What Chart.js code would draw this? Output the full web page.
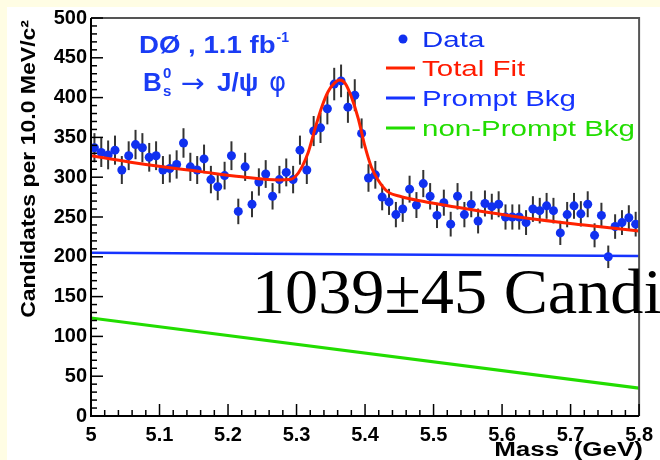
<!DOCTYPE html>
<html>
<head>
<meta charset="utf-8">
<script src="https://cdn.jsdelivr.net/npm/chart.js@4.4.1/dist/chart.umd.min.js"></script>
<style>
html, body { margin: 0; padding: 0; background: #fffde4; }
#wrap { width: 660px; height: 460px; }
</style>
</head>
<body>
<div id="wrap"><canvas id="massChart" width="660" height="460"></canvas></div>
<script>
// binning of the histogram (10 MeV per bin)
const binStart = 5.0;
const binWidth = 0.01;
const candidates = [
  337, 331, 328, 334, 309, 327, 341, 337, 325, 327,
  309, 311, 316, 343, 313, 309, 323, 297, 288, 302,
  327, 257, 313, 266, 294, 304, 276, 297, 306, 297,
  334, 309, 358, 362, 386, 417, 421, 388, 403, 355,
  299, 303, 275, 269, 253, 260, 285, 265, 292, 276,
  252, 268, 241, 276, 253, 266, 245, 267, 263, 266,
  250, 250, 250, 243, 260, 258, 264, 258, 230, 253,
  264, 254, 266, 227, 252, 200, 238, 243, 249, 241
];
// total fit
const fitMass = [5.0, 5.08, 5.16, 5.22, 5.275, 5.29, 5.298, 5.308, 5.317, 5.327, 5.337, 5.346, 5.356, 5.363,
  5.371, 5.38, 5.39, 5.4, 5.409, 5.419, 5.433, 5.453, 5.48, 5.55, 5.64, 5.72, 5.8];
const fitValues = [327, 316, 307, 300.5, 296.5, 297, 300.5, 313, 331, 361, 388.6, 407.4, 418.7, 422,
  418, 401, 374, 338.3, 313.2, 296.5, 281.8, 275.5, 270.5, 260, 248, 240, 232.5];
const promptMass = [5.0, 5.8];
const promptValues = [205, 201];
const nonPromptMass = [5.0, 5.8];
const nonPromptValues = [123, 35];
const massTicks = [5, 5.1, 5.2, 5.3, 5.4, 5.5, 5.6, 5.7, 5.8];
const countTicks = [0, 50, 100, 150, 200, 250, 300, 350, 400, 450, 500];

const pts = candidates.map((c, i) => ({ x: binStart + binWidth * (i + 0.5), y: c }));
const toXY = (xs, ys) => xs.map((x, i) => ({ x: x, y: ys[i] }));

function txt(ctx, s, x, y, font, color, sx, align) {
  ctx.save();
  ctx.font = font;
  ctx.fillStyle = color;
  ctx.textAlign = align || 'left';
  ctx.textBaseline = 'alphabetic';
  ctx.translate(x, y);
  ctx.scale(sx || 1, 1);
  ctx.fillText(s, 0, 0);
  const w = ctx.measureText(s).width * (sx || 1);
  ctx.restore();
  return w;
}

const histPlugin = {
  id: 'histPlugin',
  beforeDraw(chart) {
    const ctx = chart.ctx;
    ctx.save();
    ctx.fillStyle = '#fffde4';
    ctx.fillRect(0, 0, 660, 460);
    ctx.fillStyle = '#ffffff';
    ctx.fillRect(7, 7, 653, 453);
    ctx.restore();
  },
  beforeDatasetsDraw(chart) {
    // error bars
    const ctx = chart.ctx, xs = chart.scales.x, ys = chart.scales.y;
    ctx.save();
    ctx.strokeStyle = '#333';
    ctx.lineWidth = 2;
    pts.forEach(p => {
      const e = Math.sqrt(p.y);
      const px = xs.getPixelForValue(p.x);
      ctx.beginPath();
      ctx.moveTo(px, ys.getPixelForValue(p.y - e));
      ctx.lineTo(px, ys.getPixelForValue(p.y + e));
      ctx.stroke();
    });
    ctx.restore();
  },
  afterDatasetsDraw(chart) {
    const ctx = chart.ctx, xs = chart.scales.x, ys = chart.scales.y;
    const a = chart.chartArea;
    ctx.save();
    // frame
    ctx.lineWidth = 2;
    ctx.strokeStyle = '#555';
    ctx.beginPath();
    ctx.moveTo(a.left, a.top); ctx.lineTo(a.right, a.top); ctx.lineTo(a.right, a.bottom);
    ctx.stroke();
    ctx.strokeStyle = '#000';
    ctx.beginPath();
    ctx.moveTo(a.left, a.top); ctx.lineTo(a.left, a.bottom); ctx.lineTo(a.right, a.bottom);
    ctx.stroke();
    // ticks pointing inside
    ctx.lineWidth = 1.5;
    for (let v = 0; v <= 500; v += 10) {
      const py = ys.getPixelForValue(v);
      const len = countTicks.includes(v) ? 12 : 6;
      ctx.beginPath(); ctx.moveTo(a.left, py); ctx.lineTo(a.left + len, py); ctx.stroke();
    }
    for (let k = 0; k <= 40; k++) {
      const px = xs.getPixelForValue(5 + k * 0.02);
      const len = k % 5 === 0 ? 12 : 6;
      ctx.beginPath(); ctx.moveTo(px, a.bottom); ctx.lineTo(px, a.bottom - len); ctx.stroke();
    }
    ctx.restore();

    // legend
    const lf = '22px "Liberation Sans", Arial, sans-serif';
    ctx.save();
    ctx.fillStyle = '#1030f0';
    ctx.beginPath(); ctx.arc(403, 39, 4.5, 0, Math.PI * 2); ctx.fill();
    ctx.lineWidth = 3;
    [['#ff2200', 68], ['#1533ff', 98], ['#22dd00', 128]].forEach(l => {
      ctx.strokeStyle = l[0];
      ctx.beginPath(); ctx.moveTo(386, l[1]); ctx.lineTo(415, l[1]); ctx.stroke();
    });
    ctx.restore();
    txt(ctx, 'Data', 422, 47, lf, '#1030f0', 1.34);
    txt(ctx, 'Total Fit', 422, 76, lf, '#ff1a00', 1.34);
    txt(ctx, 'Prompt Bkg', 422, 106, lf, '#1533ff', 1.34);
    txt(ctx, 'non-Prompt Bkg', 422, 136, lf, '#22dd00', 1.34);

    // experiment labels
    const bf = 'bold 24px "Liberation Sans", Arial, sans-serif';
    const blue = '#1a3cf5';
    let w = txt(ctx, 'DØ , 1.1 fb', 139, 53, bf, blue, 1.15);
    txt(ctx, '-1', 139 + w + 1, 42, 'bold 14px "Liberation Sans", Arial, sans-serif', blue, 1);
    txt(ctx, 'B', 143, 91, 'bold 26px "Liberation Sans", Arial, sans-serif', blue, 1);
    txt(ctx, '0', 163, 78, 'bold 15px "Liberation Sans", Arial, sans-serif', blue, 1);
    txt(ctx, 's', 163, 96, 'bold 15px "Liberation Sans", Arial, sans-serif', blue, 1);
    txt(ctx, '→', 181, 92, '26px "DejaVu Sans", sans-serif', blue, 1.1);
    txt(ctx, 'J/ψ', 217, 91, 'bold 26px "Liberation Sans", Arial, sans-serif', blue, 1);
    txt(ctx, 'φ', 269, 91, '26px "DejaVu Sans", sans-serif', blue, 1);

    // axis titles
    txt(ctx, 'Mass  (GeV)', 643, 456, 'bold 20px "Liberation Sans", Arial, sans-serif', '#000', 1.3, 'right');
    ctx.save();
    ctx.translate(35, 20);
    ctx.rotate(-Math.PI / 2);
    txt(ctx, 'Candidates per 10.0 MeV/c²', 0, 0, 'bold 20px "Liberation Sans", Arial, sans-serif', '#000', 1.15, 'right');
    ctx.restore();

    // candidate count
    txt(ctx, '1039±45 Candi', 252, 313, '64px "Liberation Serif", "Times New Roman", serif', '#000', 1.035);
  }
};

new Chart(document.getElementById('massChart'), {
  type: 'scatter',
  data: {
    datasets: [
      {
        label: 'Data',
        data: pts,
        backgroundColor: '#1030f0',
        borderColor: '#1030f0',
        pointRadius: 4.5,
        borderWidth: 0,
        order: 3
      },
      {
        label: 'Total Fit',
        data: toXY(fitMass, fitValues),
        showLine: true,
        borderColor: '#ff2200',
        borderWidth: 3,
        pointRadius: 0,
        cubicInterpolationMode: 'monotone',
        order: 1
      },
      {
        label: 'Prompt Bkg',
        data: toXY(promptMass, promptValues),
        showLine: true,
        borderColor: '#1533ff',
        borderWidth: 2.5,
        pointRadius: 0,
        order: 2
      },
      {
        label: 'non-Prompt Bkg',
        data: toXY(nonPromptMass, nonPromptValues),
        showLine: true,
        borderColor: '#22dd00',
        borderWidth: 3,
        pointRadius: 0,
        order: 2
      }
    ]
  },
  options: {
    responsive: false,
    animation: false,
    events: [],
    layout: { padding: { left: 0, top: 18, right: 17, bottom: 0 } },
    plugins: {
      legend: { display: false },
      tooltip: { enabled: false }
    },
    scales: {
      x: {
        type: 'linear',
        min: 5,
        max: 5.8,
        afterBuildTicks: s => { s.ticks = massTicks.map(v => ({ value: v })); },
        afterFit: s => { s.height = 44; },
        grid: { display: false, drawTicks: false },
        border: { display: false },
        ticks: {
          autoSkip: false,
          maxRotation: 0,
          padding: 7,
          color: '#000',
          font: { family: '"Liberation Sans", Arial, sans-serif', size: 20, weight: 'bold' },
          callback: v => String(+v.toFixed(1))
        }
      },
      y: {
        min: 0,
        max: 500,
        afterBuildTicks: s => { s.ticks = countTicks.map(v => ({ value: v })); },
        afterFit: s => { s.width = 91; },
        grid: { display: false, drawTicks: false },
        border: { display: false },
        ticks: {
          padding: 4,
          color: '#000',
          font: { family: '"Liberation Sans", Arial, sans-serif', size: 20, weight: 'bold' }
        }
      }
    }
  },
  plugins: [histPlugin]
});
</script>
</body>
</html>
